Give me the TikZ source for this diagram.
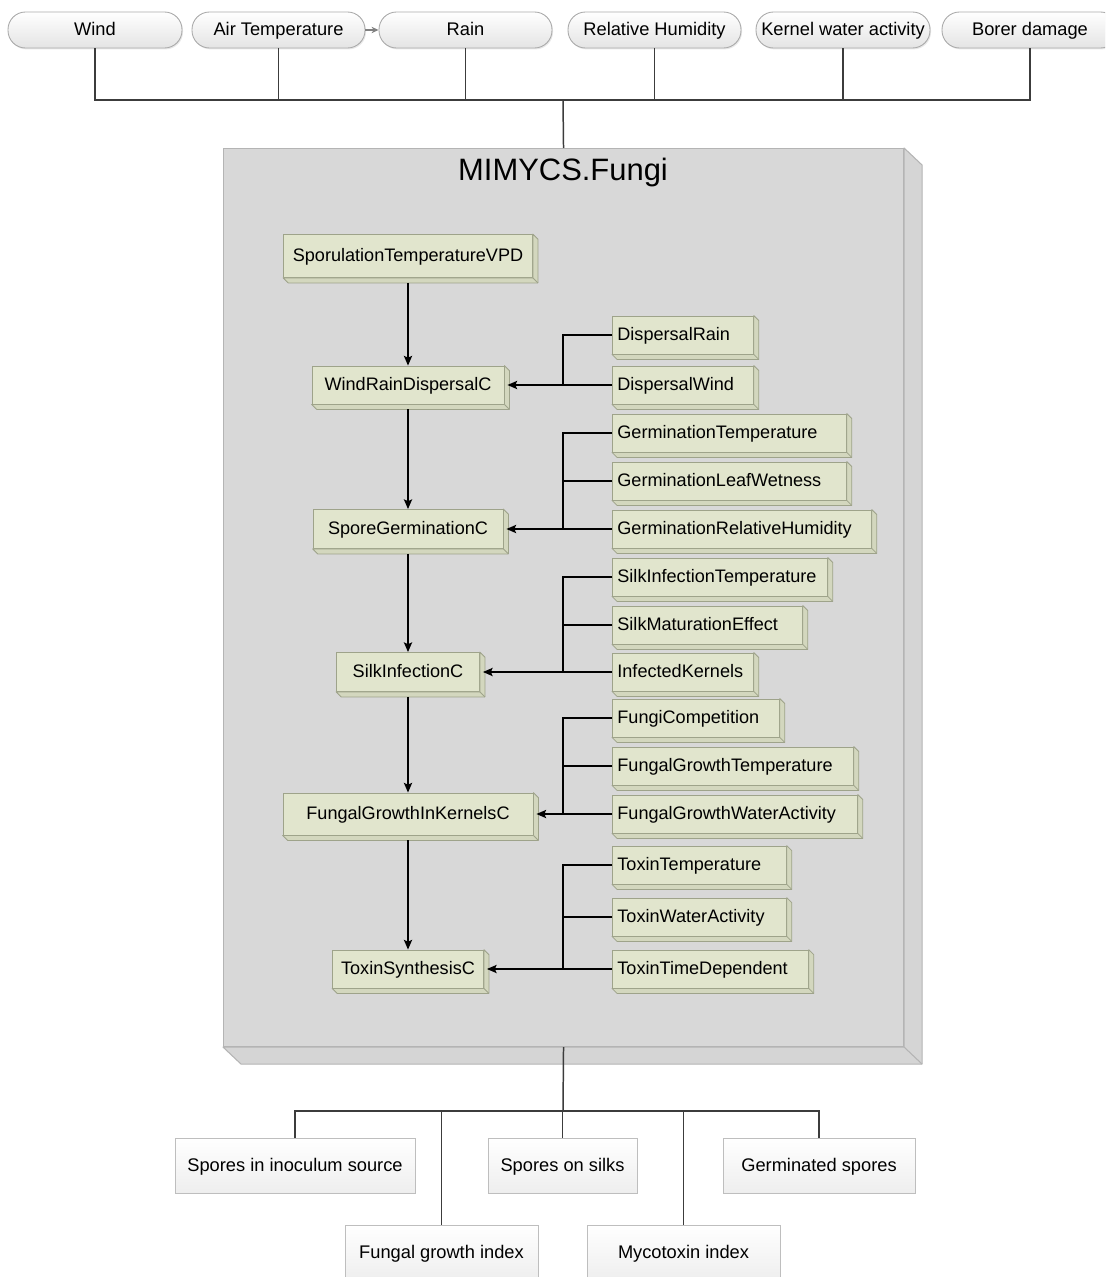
\documentclass[tikz,border=0pt]{standalone}
\usepackage{fontspec}
\setmainfont{Liberation Sans}
\usetikzlibrary{calc,arrows.meta,shadows}

\definecolor{boxfront}{RGB}{216,216,216}
\definecolor{boxside}{RGB}{213,213,213}
\definecolor{boxedge}{RGB}{180,180,180}
\definecolor{gfrontc}{RGB}{225,229,205}
\definecolor{gsidec}{RGB}{211,215,190}
\definecolor{gedgec}{RGB}{158,163,138}
\definecolor{pilledge}{RGB}{170,170,170}
\definecolor{pillbot}{RGB}{228,228,228}
\definecolor{outedge}{RGB}{190,190,190}
\definecolor{outbot}{RGB}{238,238,238}
\definecolor{buscol}{RGB}{60,60,60}

% side and bottom faces of an extruded box, offset (#2,#3) down-right
\newcommand\sidefaces[4]{%
  \path[#4] (#1.north east) -- ++(#2,#3) -- ($(#1.south east)+(#2,#3)$)
    -- ($(#1.south west)+(#2,#3)$) -- (#1.south west) -- (#1.south east) -- cycle;
  \draw[#4, fill=none] (#1.south east) -- ++(#2,#3);
}
% centred component box: name, cx, cy, width, height, label
\newcommand\cbox[6]{%
  \node[gfront, minimum width=#4*0.02cm, minimum height=#5*0.02cm] (#1) at (#2,#3) {#6};
  \sidefaces{#1}{5}{5}{gside}%
}
% left-aligned factor box: name, left x, cy, width, label
\newcommand\rbox[5]{%
  \pgfmathsetmacro\rtw{(#4-10)*0.02}%
  \node[gfront, anchor=west, text width=\rtw cm, align=left, inner xsep=0.1cm,
        minimum height=38*0.02cm] (#1) at (#2,#3) {#5};
  \sidefaces{#1}{5}{5}{gside}%
}

\begin{document}
\begin{tikzpicture}[x=0.02cm, y=-0.02cm,
  txt/.style={font=\fontsize{10.4pt}{12pt}\selectfont, text=black,
    text height=7.6pt, text depth=1pt},
  pill/.style={txt, draw=pilledge, line width=0.5pt, top color=white, bottom color=pillbot,
    rounded corners=0.35cm, minimum height=36*0.02cm, inner sep=0pt,
    drop shadow={shadow xshift=0.6pt, shadow yshift=-0.8pt, opacity=0.18}},
  outbox/.style={txt, draw=outedge, line width=0.5pt, top color=white, bottom color=outbot,
    minimum height=55*0.02cm, inner sep=0pt,
    drop shadow={shadow xshift=0.8pt, shadow yshift=-0.8pt, opacity=0.15}},
  gfront/.style={txt, font=\fontsize{10.3pt}{12pt}\selectfont, draw=gedgec,
    line width=0.45pt, fill=gfrontc, inner sep=0pt},
  gside/.style={draw=gedgec, line width=0.45pt, fill=gsidec, line join=round},
  bigside/.style={draw=boxedge, line width=0.6pt, fill=boxside, line join=round},
  bus/.style={draw=buscol, line width=0.85pt},
  link/.style={draw=black, line width=1.15pt},
  flow/.style={link, -{Stealth[length=5.5pt, width=4.6pt, inset=1pt]}},
]
\clip (0,0) rectangle (1105,1277);
\fill[white] (0,0) rectangle (1105,1277);

% ---- inputs ----
\node[pill, minimum width=174*0.02cm] (wind) at (95,30) {Wind};
\node[pill, minimum width=173*0.02cm] (airt) at (278.5,30) {Air Temperature};
\node[pill, minimum width=173*0.02cm] (rain) at (465.5,30) {Rain};
\node[pill, minimum width=173*0.02cm] (relh) at (654.5,30) {Relative Humidity};
\node[pill, minimum width=174*0.02cm] (kwa) at (843,30) {Kernel water activity};
\node[pill, minimum width=176*0.02cm] (borer) at (1030,30) {Borer damage};

\draw[bus, draw=gray, line width=0.6pt, -{Stealth[length=4pt, width=3.6pt]}] (airt.east) -- (rain.west);

% ---- MIMYCS.Fungi container ----
\node[draw=boxedge, line width=0.6pt, fill=boxfront, anchor=north west, inner sep=0pt,
      minimum width=680*0.02cm, minimum height=898*0.02cm] (fungi) at (223,148) {};
\sidefaces{fungi}{18}{17}{bigside}
\node[font=\fontsize{17.6pt}{20pt}\selectfont] (title) at (563,173) {MIMYCS.Fungi};

\coordinate (topbus) at (563,100);
\draw[bus] (wind.south) -- (wind.south |- topbus) -- (borer.south |- topbus) -- (borer.south);
\foreach \n in {airt,rain,relh,kwa} \draw[bus] (\n.south) -- (\n.south |- topbus);
\draw[bus] (topbus) -- (fungi.north);

% ---- component chain ----
\cbox{spor}{408}{256}{249}{43}{SporulationTemperatureVPD}
\cbox{wrd}{408}{385}{192}{38}{WindRainDispersalC}
\cbox{sgc}{408}{529}{190}{39}{SporeGerminationC}
\cbox{sic}{408}{672}{143}{39}{SilkInfectionC}
\cbox{fgk}{408}{814}{250}{42}{FungalGrowthInKernelsC}
\cbox{tsc}{408}{969}{151}{38}{ToxinSynthesisC}

% ---- factor boxes ----
\rbox{drain}{612}{335}{141}{DispersalRain}
\rbox{dwind}{612}{385}{141}{DispersalWind}
\rbox{gtemp}{612}{433}{234}{GerminationTemperature}
\rbox{gleaf}{612}{481}{234}{GerminationLeafWetness}
\rbox{grh}{612}{529}{259}{GerminationRelativeHumidity}
\rbox{sit}{612}{577}{215}{SilkInfectionTemperature}
\rbox{sme}{612}{625}{190}{SilkMaturationEffect}
\rbox{ik}{612}{672}{141}{InfectedKernels}
\rbox{fcomp}{612}{718}{167}{FungiCompetition}
\rbox{fgt}{612}{766}{241}{FungalGrowthTemperature}
\rbox{fgwa}{612}{814}{245}{FungalGrowthWaterActivity}
\rbox{tt}{612}{865}{174}{ToxinTemperature}
\rbox{twa}{612}{917}{174}{ToxinWaterActivity}
\rbox{ttd}{612}{969}{196}{ToxinTimeDependent}

% vertical flow
\draw[flow] ($(spor.south)+(0,5)$) -- (wrd.north);
\draw[flow] ($(wrd.south)+(0,5)$) -- (sgc.north);
\draw[flow] ($(sgc.south)+(0,5)$) -- (sic.north);
\draw[flow] ($(sic.south)+(0,5)$) -- (fgk.north);
\draw[flow] ($(fgk.south)+(0,5)$) -- (tsc.north);

% factor junctions
\coordinate (j1) at (563,385);
\draw[flow] (dwind.west) -- ($(wrd.east)+(3,0)$);
\draw[link] (drain.west) -| (j1);

\coordinate (j2) at (563,529);
\draw[flow] (grh.west) -- ($(sgc.east)+(3,0)$);
\draw[link] (gtemp.west) -| (j2);
\draw[link] (gleaf.west) -- (gleaf.west -| j2);

\coordinate (j3) at (563,672);
\draw[flow] (ik.west) -- ($(sic.east)+(3,0)$);
\draw[link] (sit.west) -| (j3);
\draw[link] (sme.west) -- (sme.west -| j3);

\coordinate (j4) at (563,814);
\draw[flow] (fgwa.west) -- ($(fgk.east)+(3,0)$);
\draw[link] (fcomp.west) -| (j4);
\draw[link] (fgt.west) -- (fgt.west -| j4);

\coordinate (j5) at (563,969);
\draw[flow] (ttd.west) -- ($(tsc.east)+(3,0)$);
\draw[link] (tt.west) -| (j5);
\draw[link] (twa.west) -- (twa.west -| j5);

% ---- outputs ----
\node[outbox, minimum width=240*0.02cm] (inoc) at (295,1165.5) {Spores in inoculum source};
\node[outbox, minimum width=149*0.02cm] (silks) at (562.5,1165.5) {Spores on silks};
\node[outbox, minimum width=192*0.02cm] (germ) at (819,1165.5) {Germinated spores};
\node[outbox, minimum width=193*0.02cm] (fgi) at (441.5,1252.5) {Fungal growth index};
\node[outbox, minimum width=193*0.02cm] (myco) at (683.5,1252.5) {Mycotoxin index};

\coordinate (botbus) at (563,1111);
\draw[bus] (fungi.south) -- (botbus);
\draw[bus] (inoc.north) -- (inoc.north |- botbus) -- (germ.north |- botbus) -- (germ.north);
\foreach \n in {silks,fgi,myco} \draw[bus] (\n.north) -- (\n.north |- botbus);
\end{tikzpicture}
\end{document}
